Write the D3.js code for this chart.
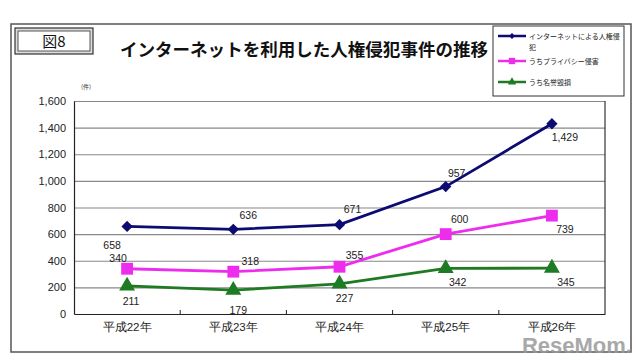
<!DOCTYPE html>
<html>
<head>
<meta charset="utf-8">
<script src="https://cdn.jsdelivr.net/npm/d3@7.9.0/dist/d3.min.js"></script>
<style>
  body { margin: 0; background: #fff; }
  svg { display: block; font-family: "Noto Sans CJK JP", "Liberation Sans", sans-serif; }
</style>
</head>
<body>
<svg width="640" height="360"></svg>
<script>
// chart data
const years = ['平成22年', '平成23年', '平成24年', '平成25年', '平成26年'];
const seriesNames = ['インターネットによる人権侵犯', 'うちプライバシー侵害', 'うち名誉毀損'];
const internet = [658, 636, 671, 957, 1429];
const privacy = [340, 318, 355, 600, 739];
const defamation = [211, 179, 227, 342, 345];
const yTicks = [0, 200, 400, 600, 800, 1000, 1200, 1400, 1600];

const svg = d3.select('svg');

// outer frame
svg.append('rect').attr('x', 11).attr('y', 24).attr('width', 620).attr('height', 328)
  .attr('fill', 'none').attr('stroke', '#555').attr('stroke-width', 1.5);

// figure number box
svg.append('rect').attr('x', 15).attr('y', 28).attr('width', 78).attr('height', 26)
  .attr('fill', '#ddd').attr('stroke', '#333').attr('stroke-width', 1.2);
svg.append('rect').attr('x', 18).attr('y', 31).attr('width', 72).attr('height', 20)
  .attr('fill', '#fff').attr('stroke', '#555').attr('stroke-width', 1);
svg.append('text').attr('x', 54).attr('y', 47).attr('text-anchor', 'middle')
  .attr('font-size', 15).attr('fill', '#111').text('図8');

// title
svg.append('text').attr('x', 120).attr('y', 56)
  .attr('font-size', 17.5).attr('font-weight', 'bold').attr('fill', '#111')
  .attr('textLength', 368).attr('lengthAdjust', 'spacingAndGlyphs')
  .text('インターネットを利用した人権侵犯事件の推移');

const x = d3.scaleBand().domain(years).range([74, 605]);
const y = d3.scaleLinear().domain([0, 1600]).range([314, 101]);
const cx = d => x(d) + x.bandwidth() / 2;

// gridlines
svg.append('g').attr('transform', 'translate(74,0)')
  .call(d3.axisLeft(y).tickValues(yTicks.slice(1)).tickSize(-531).tickFormat(''))
  .call(g => g.select('.domain').remove())
  .call(g => g.selectAll('line').attr('stroke', '#888').attr('stroke-width', 1.2));

// plot border right
svg.append('line').attr('x1', 605).attr('x2', 605).attr('y1', y(1600)).attr('y2', y(0))
  .attr('stroke', '#333').attr('stroke-width', 1.2);

// y axis
svg.append('g').attr('transform', 'translate(74,0)')
  .call(d3.axisLeft(y).tickValues(yTicks).tickSize(0).tickPadding(8).tickFormat(d3.format(',')))
  .call(g => g.select('.domain').attr('stroke', '#222').attr('stroke-width', 1.2))
  .call(g => g.selectAll('text').attr('font-family', 'Liberation Sans, Arial, sans-serif')
    .attr('font-size', 11).attr('fill', '#222'));

svg.append('text').attr('x', 86).attr('y', 89).attr('text-anchor', 'middle')
  .attr('font-size', 6).attr('fill', '#333').text('(件)');

// x axis
svg.append('g').attr('transform', 'translate(0,314)')
  .call(d3.axisBottom(x).tickSize(0).tickPadding(9))
  .call(g => g.select('.domain').attr('stroke', '#222').attr('stroke-width', 1.2))
  .call(g => g.selectAll('text').attr('font-size', 11.5).attr('fill', '#222'));

svg.append('g').selectAll('line').data(years.slice(1)).join('line')
  .attr('x1', d => x(d)).attr('x2', d => x(d))
  .attr('y1', 314).attr('y2', 310)
  .attr('stroke', '#222').attr('stroke-width', 1);

const colors = ['#0b0b72', '#ee2cee', '#1f7a24'];
const data = [internet, privacy, defamation];
const line = d3.line().x((d, i) => cx(years[i])).y(d => y(d));

data.forEach((vals, k) => {
  svg.append('path').datum(vals).attr('d', line)
    .attr('fill', 'none').attr('stroke', colors[k]).attr('stroke-width', 2.8);
});

// markers (diamond = square turned 45deg)
const symbols = [d3.symbolSquare, d3.symbolSquare, d3.symbolTriangle];
const symRot = [45, 0, 0];
const symSize = [64, 140, 110];
data.forEach((vals, k) => {
  svg.append('g').selectAll('path').data(vals).join('path')
    .attr('transform', (d, i) => `translate(${cx(years[i])},${y(d)}) rotate(${symRot[k]})`)
    .attr('d', d3.symbol(symbols[k], symSize[k]))
    .attr('fill', colors[k]);
});

// value labels, offsets from each point
const labelOffsets = [
  [[-15, 23], [15, -10], [13, -12], [11, -10], [13, 17]],
  [[-9, -7], [17, -7], [15, -8], [14, -11], [13, 17]],
  [[4, 19], [5, 24], [5, 18], [12, 18], [14, 18]]
];
data.forEach((vals, k) => {
  svg.append('g').selectAll('text').data(vals).join('text')
    .attr('x', (d, i) => cx(years[i]) + labelOffsets[k][i][0])
    .attr('y', (d, i) => y(d) + labelOffsets[k][i][1])
    .attr('text-anchor', 'middle')
    .attr('font-family', 'Liberation Sans, Arial, sans-serif')
    .attr('font-size', 10.5).attr('fill', '#222')
    .text(d => d3.format(',')(d));
});

// legend
const lg = svg.append('g');
lg.append('rect').attr('x', 493).attr('y', 26).attr('width', 131).attr('height', 70)
  .attr('fill', '#fff').attr('stroke', '#333').attr('stroke-width', 1);
const legY = [36, 61, 82];
const legSym = [18, 40, 30];
seriesNames.forEach((name, k) => {
  lg.append('line').attr('x1', 498).attr('x2', 526).attr('y1', legY[k]).attr('y2', legY[k])
    .attr('stroke', colors[k]).attr('stroke-width', 2.5);
  lg.append('path').attr('transform', `translate(512,${legY[k]}) rotate(${symRot[k]})`)
    .attr('d', d3.symbol(symbols[k], legSym[k])).attr('fill', colors[k]);
  const t = lg.append('text').attr('x', 529).attr('y', legY[k] + 3)
    .attr('font-size', 7).attr('fill', '#222');
  if (k === 0) {
    t.append('tspan').text(name.slice(0, 13));
    t.append('tspan').attr('x', 529).attr('dy', 11).text(name.slice(13));
  } else {
    t.text(name);
  }
});

// watermark
svg.append('text').attr('x', 632).attr('y', 353).attr('text-anchor', 'end')
  .attr('font-family', 'Liberation Sans, Arial, sans-serif').attr('font-weight', 'bold')
  .attr('font-size', 22).attr('fill', '#9a9a9a').attr('opacity', 0.85)
  .text('ReseMom.');
</script>
</body>
</html>
